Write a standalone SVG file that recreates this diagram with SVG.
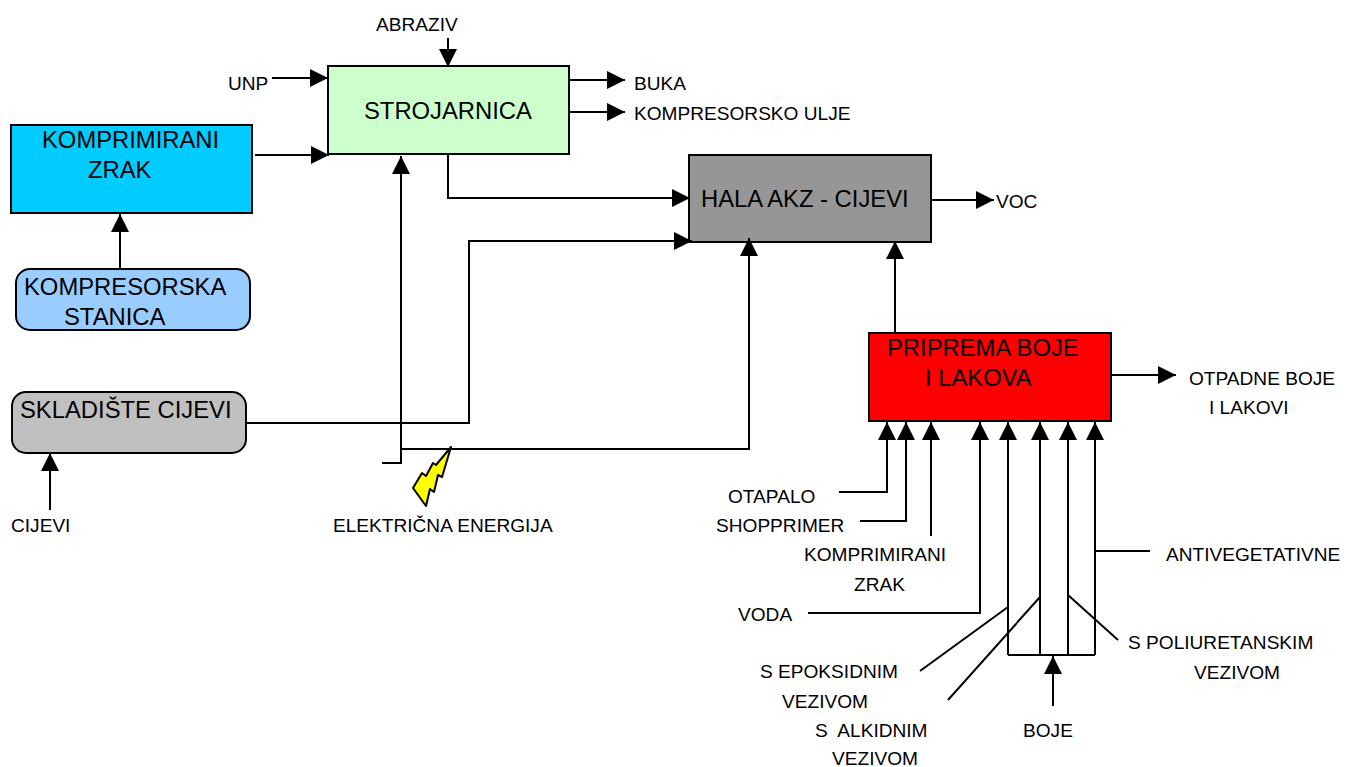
<svg xmlns="http://www.w3.org/2000/svg" width="1347" height="767" viewBox="0 0 1347 767">
<style>
text{font-family:"Liberation Sans",Arial,sans-serif;fill:#000}
.l{font-size:19.1px}
.n{font-size:23.8px}
.b{stroke:#000;stroke-width:2}
.c{fill:none;stroke:#000;stroke-width:2}
</style>
<defs><marker id="a" markerUnits="userSpaceOnUse" markerWidth="18" markerHeight="18" viewBox="0 0 18 18" refX="18" refY="9" orient="auto"><path d="M0 0L18 9L0 18z" fill="#000"/></marker></defs>
<rect width="1347" height="767" fill="#fff"/>
<g id="strojarnica"><rect class="b" x="328" y="66" width="241" height="88" fill="#ccffcc"/><text class="n" x="364" y="119">STROJARNICA</text></g>
<g id="komprimirani-zrak"><rect class="b" x="11" y="125" width="241" height="88" fill="#00ccff"/><text class="n"><tspan x="42" y="148">KOMPRIMIRANI</tspan><tspan x="88" y="178">ZRAK</tspan></text></g>
<g id="kompresorska-stanica"><rect class="b" x="16" y="269" width="234" height="61" rx="14" fill="#99ccff"/><text class="n"><tspan x="24" y="295">KOMPRESORSKA</tspan><tspan x="64" y="325">STANICA</tspan></text></g>
<g id="skladiste-cijevi"><rect class="b" x="12" y="392" width="234" height="61" rx="14" fill="#c0c0c0"/><text class="n" x="20" y="418">SKLADIŠTE CIJEVI</text></g>
<g id="hala-akz"><rect class="b" x="689" y="155" width="242" height="87" fill="#969696"/><text class="n" x="701" y="207">HALA AKZ - CIJEVI</text></g>
<g id="priprema-boje"><rect class="b" x="869" y="333" width="242" height="88" fill="#ff0000"/><text class="n"><tspan x="887" y="356">PRIPREMA BOJE</tspan><tspan x="925" y="386">I LAKOVA</tspan></text></g>
<g id="connectors" class="conn">
<path class="c" marker-end="url(#a)" d="M448 38V67"/>
<path class="c" marker-end="url(#a)" d="M272 78H328"/>
<path class="c" marker-end="url(#a)" d="M255 155H329"/>
<path class="c" marker-end="url(#a)" d="M569 80H625"/>
<path class="c" marker-end="url(#a)" d="M569 112H625"/>
<path class="c" marker-end="url(#a)" d="M448 155V198H690"/>
<path class="c" marker-end="url(#a)" d="M931 200H994"/>
<path class="c" marker-end="url(#a)" d="M120 268V214"/>
<path class="c" marker-end="url(#a)" d="M247 423H469V241H692"/>
<path class="c" marker-end="url(#a)" d="M382 463H401V156"/>
<path class="c" marker-end="url(#a)" d="M401 449H749V238"/>
<path class="c" marker-end="url(#a)" d="M895 332V241"/>
<path class="c" marker-end="url(#a)" d="M1111 375H1176"/>
<path class="c" marker-end="url(#a)" d="M50 510V453"/>
<path class="c" marker-end="url(#a)" d="M839 492H887V422"/>
<path class="c" marker-end="url(#a)" d="M860 521H906V422"/>
<path class="c" marker-end="url(#a)" d="M931 536V422"/>
<path class="c" marker-end="url(#a)" d="M808 613H980V422"/>
<path class="c" marker-end="url(#a)" d="M1008 655V422"/>
<path class="c" marker-end="url(#a)" d="M1040 655V422"/>
<path class="c" marker-end="url(#a)" d="M1068 655V422"/>
<path class="c" marker-end="url(#a)" d="M1095 655V422"/>
<path class="c" d="M1008 655H1095"/>
<path class="c" marker-end="url(#a)" d="M1053 706V656"/>
<path class="c" d="M1095 551H1150"/>
<path class="c" d="M920 671L1008 607"/>
<path class="c" d="M948 700L1040 597"/>
<path class="c" d="M1068 595L1118 640"/>
</g>
<g id="munja"><path d="M451 447L436 465L433 463L426 476L422 473L413 488L426 506L430 489L434 492L438 475L442 477Z" fill="#ffff00" stroke="#000" stroke-width="2" stroke-linejoin="round"/></g>
<g id="labels">
<text class="l" x="376" y="31">ABRAZIV</text>
<text class="l" x="228" y="90">UNP</text>
<text class="l" x="634" y="90">BUKA</text>
<text class="l" x="634" y="120">KOMPRESORSKO ULJE</text>
<text class="l" x="996" y="208">VOC</text>
<text class="l" x="1189" y="385">OTPADNE BOJE</text>
<text class="l" x="1209" y="414">I LAKOVI</text>
<text class="l" x="11" y="532">CIJEVI</text>
<text class="l" x="333" y="532">ELEKTRIČNA ENERGIJA</text>
<text class="l" x="728" y="503">OTAPALO</text>
<text class="l" x="716" y="532">SHOPPRIMER</text>
<text class="l" x="804" y="561">KOMPRIMIRANI</text>
<text class="l" x="854" y="591">ZRAK</text>
<text class="l" x="738" y="621">VODA</text>
<text class="l" x="1166" y="561">ANTIVEGETATIVNE</text>
<text class="l" x="1128" y="649">S POLIURETANSKIM</text>
<text class="l" x="1194" y="679">VEZIVOM</text>
<text class="l" x="760" y="678">S EPOKSIDNIM</text>
<text class="l" x="782" y="708">VEZIVOM</text>
<text class="l" x="815" y="737" xml:space="preserve">S  ALKIDNIM</text>
<text class="l" x="832" y="765">VEZIVOM</text>
<text class="l" x="1023" y="737">BOJE</text>
</g>
</svg>
